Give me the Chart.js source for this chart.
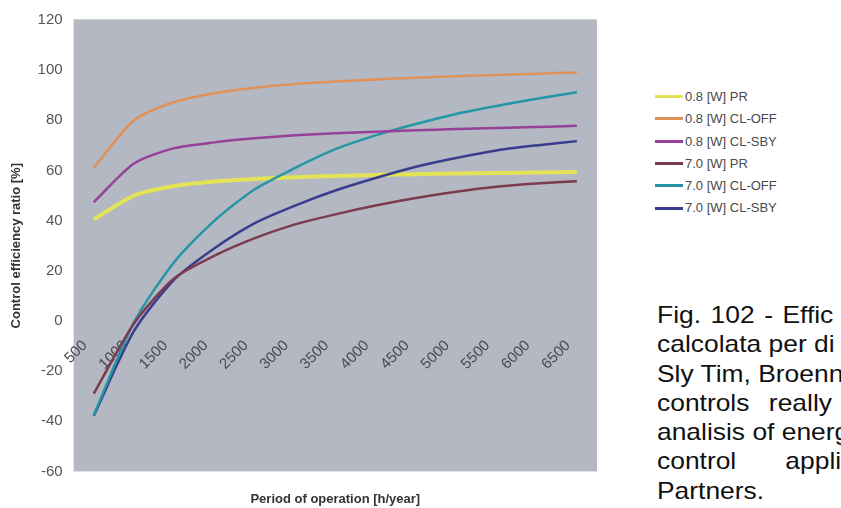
<!DOCTYPE html>
<html>
<head>
<meta charset="utf-8">
<script src="https://cdn.jsdelivr.net/npm/chart.js@4"></script>
<style>
  body { margin: 0; background: #fff; width: 841px; height: 508px; overflow: hidden; position: relative; font-family: Arial, "Liberation Sans", sans-serif; }
  #wrap { position: absolute; left: 0; top: 0; width: 600px; height: 508px; }
  #legend { position: absolute; left: 655px; top: 88px; font-size: 13px; color: #4a4a4a; }
  #legend div { height: 22.3px; line-height: 18px; white-space: nowrap; }
  #legend span.sw { display: inline-block; width: 28px; height: 3px; vertical-align: middle; margin-right: 2px; position: relative; top: -1px; }
  #caption { position: absolute; left: 657px; top: 300px; font-size: 24px; line-height: 29.3px; color: #111; white-space: nowrap; transform: scaleX(1.1); transform-origin: 0 0; }
</style>
</head>
<body>
<div id="wrap"><canvas id="effChart" width="600" height="508"></canvas></div>
<div id="legend"></div>
<div id="caption">
  <div style="word-spacing: 2px">Fig. 102 - Effic</div>
  <div>calcolata per di</div>
  <div>Sly Tim, Broenn</div>
  <div style="word-spacing: 11px">controls really</div>
  <div>analisis of energ</div>
  <div style="word-spacing: 38px">control applic</div>
  <div>Partners.</div>
</div>
<script>
var hours = ['500', '1000', '1500', '2000', '2500', '3000', '3500', '4000', '4500', '5000', '5500', '6000', '6500'];
var yTicks = [-60, -40, -20, 0, 20, 40, 60, 80, 100, 120];

var seriesNames = ['0.8 [W] PR', '0.8 [W] CL-OFF', '0.8 [W] CL-SBY', '7.0 [W] PR', '7.0 [W] CL-OFF', '7.0 [W] CL-SBY'];
var pr08    = [40.5, 50, 53.8, 55.6, 56.6, 57.3, 57.8, 58.2, 58.5, 58.8, 59, 59.2, 59.4];
var off08   = [61, 80, 87.3, 90.8, 93, 94.5, 95.5, 96.3, 97, 97.6, 98.1, 98.6, 99.1];
var sby08   = [47.4, 62.8, 68.9, 71.2, 72.8, 74, 74.8, 75.4, 76, 76.5, 76.9, 77.3, 77.8];
var pr70    = [-29, -1, 17, 26, 33, 38.5, 42.5, 46, 49, 51.5, 53.5, 54.8, 55.7];
var off70   = [-37.5, -0.5, 23.5, 40, 52.5, 61, 68.5, 74, 78.5, 82.5, 85.7, 88.6, 91.2];
var sby70   = [-37.8, -4, 16.5, 29, 39, 46, 52, 57, 61.5, 65, 68, 70, 71.7];
var colors  = ['#e3e455', '#df9158', '#96409a', '#7b3c4e', '#2596a3', '#3a3c8e'];
var widths  = [4, 2.5, 2.5, 2.5, 2.5, 2.5];

var allData = [pr08, off08, sby08, pr70, off70, sby70];
var datasets = [];
for (var i = 0; i < allData.length; i++) {
    datasets.push({
        label: seriesNames[i],
        data: allData[i],
        borderColor: colors[i],
        backgroundColor: colors[i],
        borderWidth: widths[i],
        pointRadius: 0,
        tension: 0.25,
        fill: false
    });
}

// yellow goes under the others, like the picture
datasets[0].order = 6;

var plotBg = {
    id: 'plotBg',
    beforeDraw: function (chart) {
        var a = chart.chartArea;
        var ctx = chart.ctx;
        ctx.save();
        ctx.fillStyle = '#b3b8c3';
        ctx.fillRect(a.left, a.top, a.right - a.left, a.bottom - a.top);
        ctx.strokeStyle = '#d0d2d6';
        ctx.lineWidth = 1;
        ctx.beginPath();
        ctx.moveTo(a.left, a.top - 0.5);
        ctx.lineTo(a.right, a.top - 0.5);
        ctx.stroke();
        ctx.restore();
    }
};

var ctx = document.getElementById('effChart');
var chart = new Chart(ctx, {
    type: 'line',
    data: { labels: hours, datasets: datasets },
    plugins: [plotBg],
    options: {
        responsive: false,
        animation: false,
        devicePixelRatio: 1,
        layout: { padding: { left: 5, right: 3, top: 20, bottom: 1 } },
        plugins: {
            legend: { display: false },
            tooltip: { enabled: false }
        },
        scales: {
            x: {
                type: 'category',
                position: { y: 0 },
                offset: true,
                grid: { display: false, drawTicks: false },
                border: { display: false },
                ticks: {
                    minRotation: 45,
                    maxRotation: 45,
                    padding: 7,
                    color: '#4a4a55',
                    font: { family: 'Arial', size: 15 },
                    // trailing blanks push the rotated label a bit down-left of its point
                    callback: function (v) { return this.getLabelForValue(v) + '   '; }
                }
            },
            x2: {
                type: 'category',
                position: 'bottom',
                offset: true,
                grid: { display: false, drawTicks: false },
                border: { display: false },
                ticks: { display: false },
                title: {
                    display: true,
                    text: 'Period of operation [h/year]',
                    color: '#333',
                    font: { family: 'Arial', size: 13, weight: 'bold' },
                    padding: { top: 20, bottom: 0 }
                }
            },
            y: {
                min: -60,
                max: 120,
                afterBuildTicks: function (axis) {
                    axis.ticks = yTicks.map(function (v) { return { value: v }; });
                },
                grid: { display: false, drawTicks: false },
                border: { display: false },
                ticks: {
                    padding: 11,
                    color: '#555',
                    font: { family: 'Arial', size: 15 }
                },
                title: {
                    display: true,
                    text: 'Control efficiency ratio [%]',
                    color: '#333',
                    font: { family: 'Arial', size: 13, weight: 'bold' },
                    padding: { top: 4, bottom: 2 }
                }
            }
        }
    }
});

// legend built from the same datasets
var lg = document.getElementById('legend');
for (var j = 0; j < datasets.length; j++) {
    var row = document.createElement('div');
    row.innerHTML = '<span class="sw" style="background:' + datasets[j].borderColor + '"></span>' + datasets[j].label;
    lg.appendChild(row);
}
</script>
</body>
</html>
